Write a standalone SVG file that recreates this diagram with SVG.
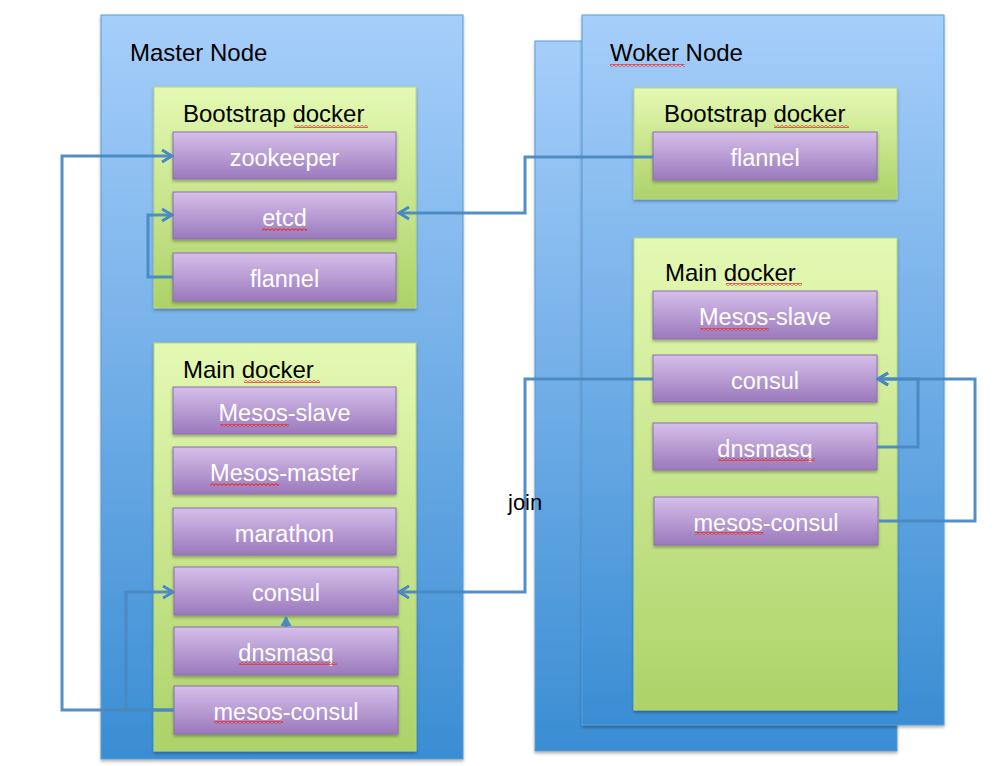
<svg xmlns="http://www.w3.org/2000/svg" width="1008" height="766" viewBox="0 0 1008 766">
<defs>
<linearGradient id="gBlue" x1="0" y1="0" x2="0" y2="1"><stop offset="0" stop-color="#a6cefa"/><stop offset="1" stop-color="#3a8dd3"/></linearGradient>
<linearGradient id="gGreen" x1="0" y1="0" x2="0" y2="1"><stop offset="0" stop-color="#e4f9b3"/><stop offset="1" stop-color="#acd268"/></linearGradient>
<linearGradient id="gPurple" x1="0" y1="0" x2="0" y2="1"><stop offset="0" stop-color="#d6bfea"/><stop offset="1" stop-color="#9a79bc"/></linearGradient>
<filter id="sh" x="-5%" y="-5%" width="110%" height="115%"><feDropShadow dx="0" dy="2" stdDeviation="1.5" flood-color="#000" flood-opacity="0.3"/></filter>
<marker id="arr" markerUnits="userSpaceOnUse" markerWidth="14" markerHeight="16" refX="12" refY="8" orient="auto"><path d="M2,2 L12,8 L2,14" fill="none" stroke="#4a88c2" stroke-width="3"/></marker>
<marker id="tri" markerUnits="userSpaceOnUse" markerWidth="12" markerHeight="12" refX="9" refY="6" orient="auto"><path d="M0,0.5 L10,6 L0,11.5 Z" fill="#4a88c2"/></marker>
<pattern id="sq" patternUnits="userSpaceOnUse" width="4" height="3"><path d="M0,0.6 L2,2.4 L4,0.6" fill="none" stroke="#e53030" stroke-width="1.1"/></pattern>
<style>
.node{fill:url(#gBlue);stroke:#5b9bd3;stroke-width:1;filter:url(#sh)}
.dock{fill:url(#gGreen);stroke:#b5d77e;stroke-width:1;filter:url(#sh)}
.svc{fill:url(#gPurple);stroke:#8c6fb0;stroke-width:1;filter:url(#sh)}
.lbl{font-family:"Liberation Sans",Arial,sans-serif;font-size:24px;fill:#000}
.st{font-family:"Liberation Sans",Arial,sans-serif;font-size:23.5px;fill:#fff;text-anchor:middle}
.con{fill:none;stroke:#4a88c2;stroke-width:3;stroke-opacity:0.95}
</style>
</defs>
<rect width="1008" height="766" fill="#fff"/>

<g id="master-node">
<rect class="node" x="101" y="15" width="362" height="744"/>
<text class="lbl" x="130" y="61">Master Node</text>
</g>
<g id="worker-node-back">
<rect class="node" x="535" y="41" width="362" height="710"/>
</g>
<g id="worker-node">
<rect class="node" x="582" y="15" width="362" height="710"/>
<text class="lbl" x="610" y="61">Woker Node</text>
<rect x="610" y="64" width="75" height="3" fill="url(#sq)"/>
</g>

<g id="master-bootstrap">
<rect class="dock" x="154" y="87" width="262" height="221"/>
<text class="lbl" x="183" y="122">Bootstrap docker</text>
<rect x="294" y="125" width="74" height="3" fill="url(#sq)"/>
</g>
<g id="master-zookeeper"><rect class="svc" x="173" y="132" width="223" height="47"/><text class="st" x="284.5" y="166">zookeeper</text></g>
<g id="master-etcd"><rect class="svc" x="173" y="192" width="223" height="47"/><text class="st" x="284.5" y="226">etcd</text><rect x="262" y="228" width="45" height="3" fill="url(#sq)"/></g>
<g id="master-flannel"><rect class="svc" x="173" y="253" width="223" height="48"/><text class="st" x="284.5" y="287">flannel</text></g>

<g id="master-main">
<rect class="dock" x="154" y="343" width="262" height="408"/>
<text class="lbl" x="183" y="378">Main docker</text>
<rect x="244" y="380" width="76" height="3" fill="url(#sq)"/>
</g>
<g id="master-mesos-slave"><rect class="svc" x="173" y="387" width="223" height="47"/><text class="st" x="284.5" y="421">Mesos-slave</text><rect x="220" y="424" width="69" height="3" fill="url(#sq)"/></g>
<g id="master-mesos-master"><rect class="svc" x="173" y="447" width="223" height="47"/><text class="st" x="284.5" y="481">Mesos-master</text><rect x="210" y="483" width="69" height="3" fill="url(#sq)"/></g>
<g id="master-marathon"><rect class="svc" x="173" y="508" width="223" height="47"/><text class="st" x="284.5" y="542">marathon</text></g>
<g id="master-consul"><rect class="svc" x="174" y="567" width="224" height="48"/><text class="st" x="286" y="601">consul</text></g>
<g id="master-dnsmasq"><rect class="svc" x="174" y="627" width="224" height="48"/><text class="st" x="286" y="661">dnsmasq</text><rect x="239" y="662" width="98" height="3" fill="url(#sq)"/></g>
<g id="master-mesos-consul"><rect class="svc" x="174" y="686" width="224" height="48"/><text class="st" x="286" y="720">mesos-consul</text><rect x="214" y="721" width="69" height="3" fill="url(#sq)"/></g>

<g id="worker-bootstrap">
<rect class="dock" x="634" y="88" width="263" height="111"/>
<text class="lbl" x="664" y="122">Bootstrap docker</text>
<rect x="774" y="125" width="75" height="3" fill="url(#sq)"/>
</g>
<g id="worker-flannel"><rect class="svc" x="653" y="132" width="224" height="48"/><text class="st" x="765" y="166">flannel</text></g>

<g id="worker-main">
<rect class="dock" x="634" y="238" width="263" height="472"/>
<text class="lbl" x="665" y="281">Main docker</text>
<rect x="726" y="283" width="76" height="3" fill="url(#sq)"/>
</g>
<g id="worker-mesos-slave"><rect class="svc" x="653" y="291" width="224" height="48"/><text class="st" x="765" y="325">Mesos-slave</text><rect x="700" y="328" width="69" height="3" fill="url(#sq)"/></g>
<g id="worker-consul"><rect class="svc" x="653" y="355" width="224" height="47"/><text class="st" x="765" y="389">consul</text></g>
<g id="worker-dnsmasq"><rect class="svc" x="653" y="423" width="224" height="47"/><text class="st" x="765" y="457">dnsmasq</text><rect x="718" y="458" width="97" height="3" fill="url(#sq)"/></g>
<g id="worker-mesos-consul"><rect class="svc" x="654" y="497" width="224" height="48"/><text class="st" x="766" y="531">mesos-consul</text><rect x="695" y="532" width="68" height="3" fill="url(#sq)"/></g>

<g id="connectors">
<path class="con" d="M174,710 H62 V156 H172" marker-end="url(#arr)"/>
<path class="con" d="M174,710 H126 V592 H173" marker-end="url(#arr)"/>
<path class="con" d="M173,277 H148 V215 H172" marker-end="url(#arr)"/>
<path class="con" d="M286,627 V617" marker-end="url(#tri)"/>
<path class="con" d="M653,157 H525 V213 H399" marker-end="url(#arr)"/>
<path class="con" d="M653,379 H525 V592 H399" marker-end="url(#arr)"/>
<path class="con" d="M877,447 H918 V379 H878" marker-end="url(#arr)"/>
<path class="con" d="M879,521 H975 V379 H878" marker-end="url(#arr)"/>
<text class="lbl" x="508" y="510" style="font-size:22px">join</text>
</g>
</svg>
